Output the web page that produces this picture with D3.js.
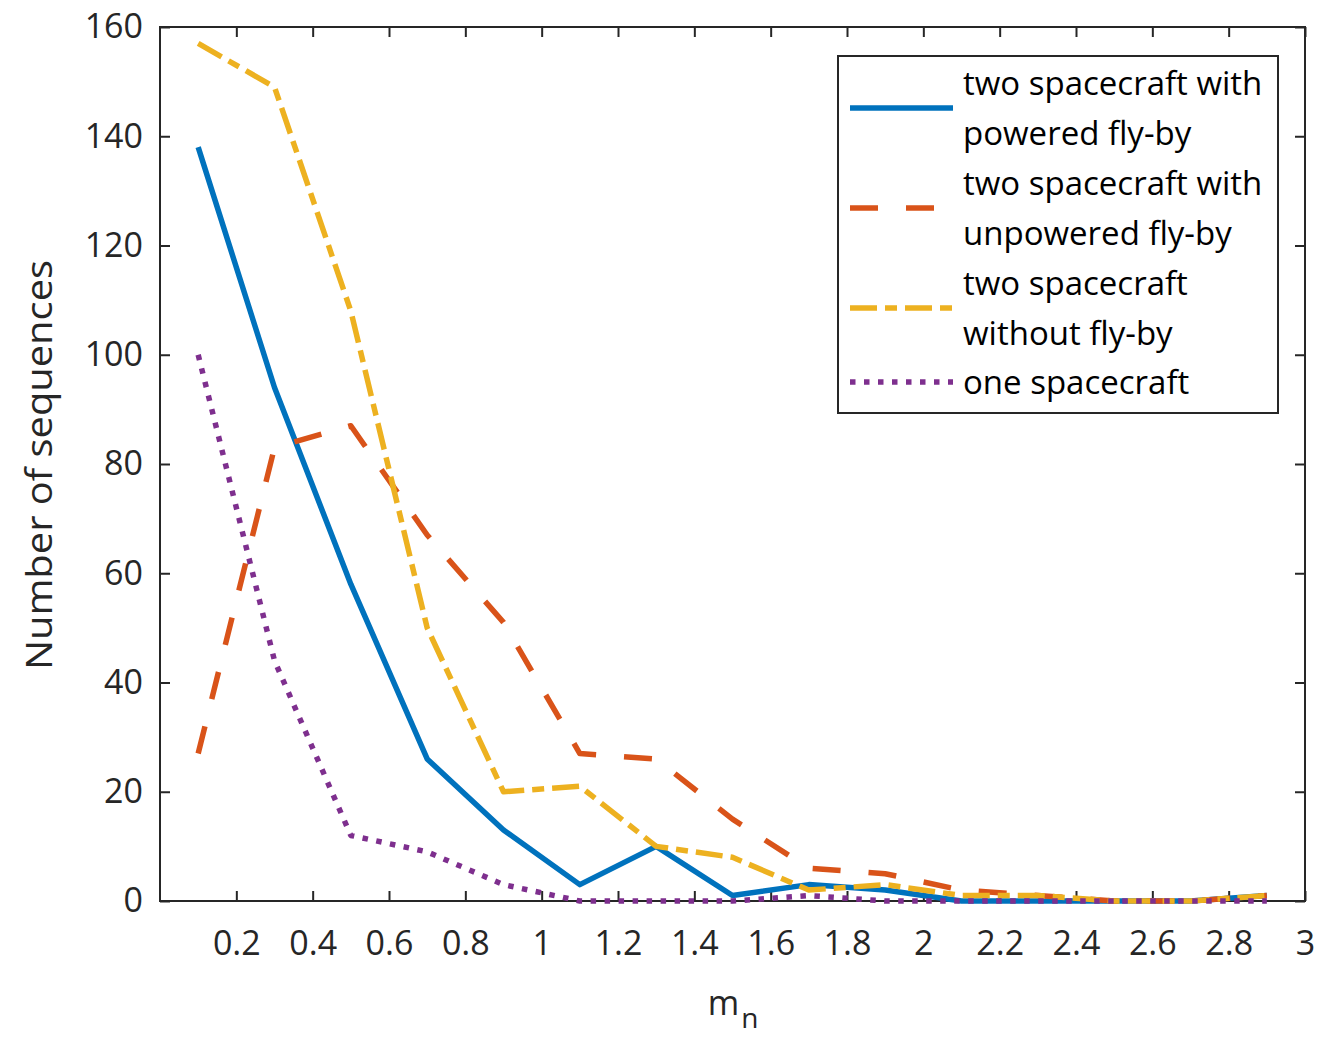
<!DOCTYPE html>
<html><head><meta charset="utf-8">
<script src="https://cdn.jsdelivr.net/npm/d3@7"></script>
<style>body{margin:0;background:#fff}svg{display:block}</style>
</head><body>
<script>
const xValues = [0.1,0.3,0.5,0.7,0.9,1.1,1.3,1.5,1.7,1.9,2.1,2.3,2.5,2.7,2.9];
const powered   = [138,94,58,26,13,3,10,1,3,2,0,0,0,0,1];
const unpowered = [27,83,87,67,51,27,26,15,6,5,2,1,0,0,1];
const withoutFB = [157,149,108,50,20,21,10,8,2,3,1,1,0,0,1];
const oneSC     = [100,44,12,9,3,0,0,0,1,0,0,0,0,0,0];
const xTicks = [0.2,0.4,0.6,0.8,1,1.2,1.4,1.6,1.8,2,2.2,2.4,2.6,2.8,3];
const yTicks = [0,20,40,60,80,100,120,140,160];
const seriesNames = [["two spacecraft with","powered fly-by"],["two spacecraft with","unpowered fly-by"],["two spacecraft","without fly-by"],["one spacecraft"]];

const W=1317,H=1041;
const m={l:160,t:27,r:1305,b:901};
const font='"Open Sans", sans-serif';
const svg=d3.select("body").append("svg").attr("width",W).attr("height",H);
const x=d3.scaleLinear().domain([0,3]).range([m.l,m.r]);
const y=d3.scaleLinear().domain([0,160]).range([m.b,m.t]);

const series=[
 {v:powered,c:"#0072BD",dash:null},
 {v:unpowered,c:"#D95319",dash:"28,28"},
 {v:withoutFB,c:"#EDB120",dash:"27,8,12,8"},
 {v:oneSC,c:"#7E2F8E",dash:"5.5,8.5"}
];

const tk=10, axc="#262626";
const gx=svg.append("g").attr("transform",`translate(0,${m.b})`).call(d3.axisBottom(x).tickValues(xTicks).tickSize(-tk).tickPadding(30).tickFormat(d3.format("~g")));
const gxt=svg.append("g").attr("transform",`translate(0,${m.t})`).call(d3.axisTop(x).tickValues(xTicks).tickSize(-tk).tickFormat(""));
const gy=svg.append("g").attr("transform",`translate(${m.l},0)`).call(d3.axisLeft(y).tickValues(yTicks).tickSize(-tk).tickPadding(17));
const gyr=svg.append("g").attr("transform",`translate(${m.r},0)`).call(d3.axisRight(y).tickValues(yTicks).tickSize(-tk).tickFormat(""));
[gx,gxt,gy,gyr].forEach(g=>{
  g.select(".domain").remove();
  g.selectAll("line").attr("stroke",axc).attr("stroke-width",2);
  g.selectAll("text").attr("fill",axc).style("font-family",font).style("font-size","34px");
});
svg.append("rect").attr("x",m.l).attr("y",m.t).attr("width",m.r-m.l).attr("height",m.b-m.t).attr("fill","none").attr("stroke",axc).attr("stroke-width",2);

const line=d3.line().x((d,i)=>x(xValues[i])).y(d=>y(d));
series.forEach(s=>{
  svg.append("path").datum(s.v).attr("d",line).attr("fill","none").attr("stroke",s.c).attr("stroke-width",5.5)
   .attr("stroke-dasharray",s.dash).attr("stroke-linejoin","round");
});

const xl=svg.append("text").attr("x",733).attr("y",1015).attr("text-anchor","middle").attr("fill",axc).style("font-family",font).style("font-size","34px");
xl.append("tspan").text("m");
xl.append("tspan").attr("dy",13).attr("dx",2).style("font-size","28px").text("n");
svg.append("text").attr("transform","translate(52,465) rotate(-90)").attr("text-anchor","middle").attr("fill",axc)
  .style("font-family",font).style("font-size","36px").attr("textLength",410).attr("lengthAdjust","spacingAndGlyphs").text("Number of sequences");

const lg=svg.append("g");
lg.append("rect").attr("x",838).attr("y",56).attr("width",440).attr("height",357).attr("fill","#fff").attr("stroke",axc).attr("stroke-width",2);
const rowsY=[108,208,308,382];
series.forEach((s,i)=>{
  lg.append("line").attr("x1",850).attr("x2",953).attr("y1",rowsY[i]).attr("y2",rowsY[i]).attr("stroke",s.c).attr("stroke-width",5.5).attr("stroke-dasharray",s.dash);
  const names=seriesNames[i];
  names.forEach((t,j)=>{
    const yy = names.length===2 ? rowsY[i]-25+j*50 : rowsY[i];
    lg.append("text").attr("x",963).attr("y",yy).attr("dy","0.35em").attr("fill","#000").style("font-family",font).style("font-size","33px").text(t);
  });
});
</script>
</body></html>
